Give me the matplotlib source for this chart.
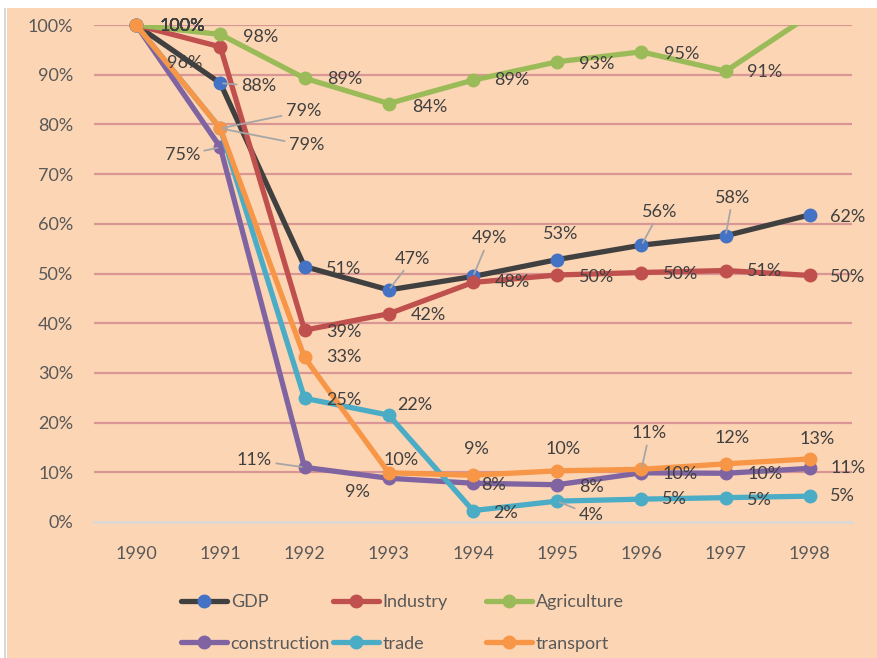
import matplotlib
matplotlib.use("Agg")
import matplotlib.pyplot as plt
from matplotlib.patches import Rectangle
from matplotlib.ticker import PercentFormatter

plt.rcParams['font.family'] = ['Lato', 'DejaVu Sans']

# data (share of 1990 level)
years = ['1990', '1991', '1992', '1993', '1994', '1995', '1996', '1997', '1998']
gdp = [1.00, 0.883, 0.514, 0.467, 0.494, 0.528, 0.557, 0.576, 0.618]
industry = [1.00, 0.956, 0.386, 0.419, 0.482, 0.497, 0.502, 0.506, 0.496]
agriculture = [1.00, 0.981, 0.893, 0.842, 0.889, 0.926, 0.946, 0.907, 1.02]
construction = [1.00, 0.754, 0.110, 0.088, 0.078, 0.075, 0.099, 0.098, 0.108]
trade = [1.00, 0.792, 0.249, 0.215, 0.023, 0.042, 0.046, 0.049, 0.052]
transport = [1.00, 0.792, 0.331, 0.099, 0.094, 0.103, 0.106, 0.117, 0.127]

names = ['GDP', 'Industry', 'Agriculture', 'construction', 'trade', 'transport']
series = [gdp, industry, agriculture, construction, trade, transport]
line_cols = ['#404040', '#C0504D', '#9BBB59', '#8064A2', '#4BACC6', '#F79646']
mark_cols = ['#4472C4', '#C0504D', '#9BBB59', '#8064A2', '#4BACC6', '#F79646']

# label offsets in pixels (dx, dy), and which ones get a leader line
offsets = [
    [(46, -1), (38, -3), (39, -2), (24, 31), (16, 38), (3, 26), (18, 33), (7, 38), (38, -2)],
    [(46, -1), (-36, -16), (39, -2), (40, -1), (39, 0), (39, -2), (39, -1), (39, 0), (38, -2)],
    [(46, -1), (40, -3), (40, -1), (41, -3), (39, 0), (39, -2), (40, -2), (39, -1), None],
    [(46, -1), (-38, -8), (-50, 7), (-31, -14), (20, -2), (34, -2), (39, -1), (39, -1), (38, 0)],
    [(46, -1), (83, 17), (39, -2), (26, 10), (33, -2), (34, -14), (33, 0), (34, -2), (33, 0)],
    [(46, -1), (86, -17), (39, 0), (12, 13), (3, 26), (6, 22), (8, 36), (6, 26), (7, 20)],
]
leaders = [[1, 3, 4, 6, 7], [], [], [1, 2], [1, 5], [1, 6]]

W, H = 877, 658
fig = plt.figure(figsize=(W / 100, H / 100), dpi=100)
fig.patch.set_facecolor('white')
fig.patches.append(Rectangle((7 / W, 0), 1 - 7 / W, 1 - 8 / H, transform=fig.transFigure,
                             facecolor='#FCD5B4', edgecolor='none', zorder=-10))
fig.patches.append(Rectangle((4 / W, 0), 2 / W, 1 - 8 / H, transform=fig.transFigure,
                             facecolor='#D9D9D9', edgecolor='none', zorder=-10))

ax = fig.add_axes([94 / W, (H - 522) / H, (852 - 94) / W, (522 - 25) / H])
ax.set_facecolor('none')
ax.set_xlim(-0.5, 8.5)
ax.set_ylim(0, 1.0)
ax.set_yticks([i / 10 for i in range(11)])
ax.yaxis.set_major_formatter(PercentFormatter(1.0, decimals=0))
ax.set_xticks(range(len(years)))
ax.set_xticklabels(years)
ax.tick_params(length=0, labelsize=13, labelcolor='#595959')
ax.tick_params(axis='y', pad=15)
ax.tick_params(axis='x', pad=17)
for s in ['top', 'right', 'left']:
    ax.spines[s].set_visible(False)
ax.spines['bottom'].set_color('#D9D9D9')
ax.spines['bottom'].set_linewidth(1.8)
for v in range(1, 11):
    ax.axhline(v / 10, color='#D99694', lw=1.6, zorder=0)

x = list(range(len(years)))
handles = []
for k, (name, vals) in enumerate(zip(names, series)):
    ln, = ax.plot(x, vals, color=line_cols[k], lw=3.8, solid_capstyle='round', zorder=2 + k)
    xs = [xi for xi, v in zip(x, vals) if v <= 1.0]
    ys = [v for v in vals if v <= 1.0]
    mk, = ax.plot(xs, ys, 'o', color=mark_cols[k], ms=9, mec=mark_cols[k], clip_on=False, zorder=2 + k)
    handles.append((ln, mk))

for k, vals in enumerate(series):
    for i, v in enumerate(vals):
        off = offsets[k][i]
        if off is None or v > 1.0:
            continue
        lab = '%d%%' % round(v * 100)
        kw = {}
        if i in leaders[k]:
            kw['arrowprops'] = dict(arrowstyle='-', color='#A6A6A6', lw=1.3, shrinkA=1, shrinkB=2)
        ax.annotate(lab, (i, v), xytext=off, textcoords='offset pixels', ha='center', va='center',
                    fontsize=13, color='#404040', annotation_clip=False, zorder=20, **kw)

# legend: one column per pair, laid out in rows like the original
col_x = [181, 333, 486]
for c in range(3):
    hs = [handles[c], handles[c + 3]]
    ls = [names[c], names[c + 3]]
    leg = fig.legend(hs, ls, loc='upper left', bbox_to_anchor=(col_x[c] / W, 1 - 594 / H),
                     frameon=False, fontsize=13, borderpad=0, borderaxespad=0,
                     handlelength=2.55, handletextpad=0.2, labelspacing=1.42,
                     labelcolor='#595959')

fig.savefig('out.png', dpi=100, facecolor=fig.get_facecolor())
